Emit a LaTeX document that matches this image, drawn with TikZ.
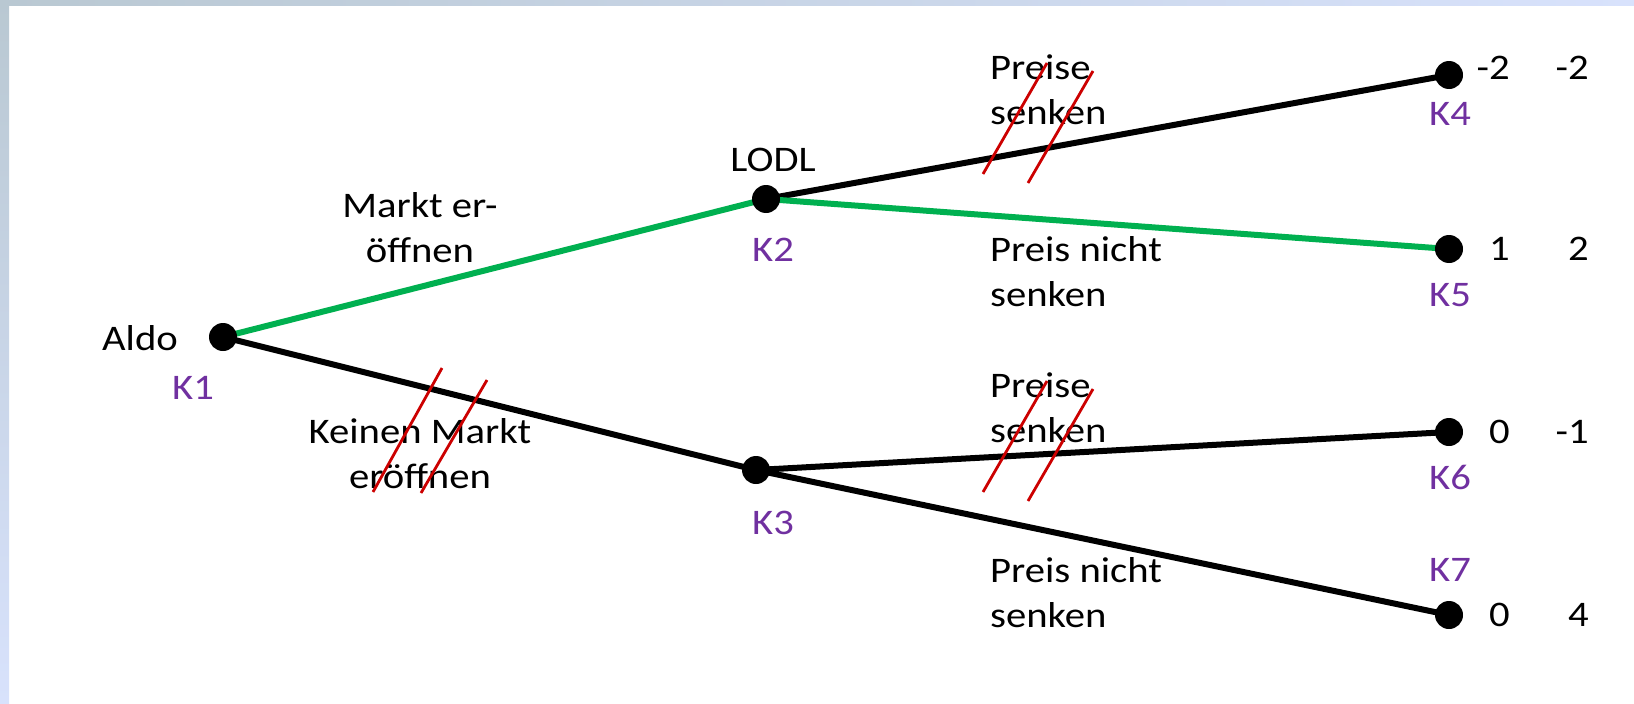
\documentclass[tikz,border=0pt]{standalone}
\usepackage{fontspec}
\setmainfont{Carlito}[FakeStretch=1.13]
\usetikzlibrary{backgrounds}
\definecolor{kgreen}{RGB}{0,176,80}
\definecolor{kpurple}{RGB}{112,48,160}
\definecolor{kred}{RGB}{204,0,0}
\definecolor{bgA}{RGB}{185,200,210}
\definecolor{bgB}{RGB}{216,226,252}
\tikzset{
  dot/.style={circle,fill=black,inner sep=0pt,minimum size=28pt},
  txt/.style={inner sep=0pt,font=\fontsize{36}{45}\selectfont},
  klabel/.style={txt,text=kpurple},
  edgeblack/.style={line width=6pt,black},
  edgegreen/.style={line width=6pt,kgreen},
  strike/.style={line width=2.8pt,kred},
}
\begin{document}
\begin{tikzpicture}[x=1pt,y=-1pt]
\useasboundingbox (0,0) rectangle (1634,704);
% frame strips
\shade[left color=bgA,right color=bgB] (0,0) rectangle (1634,5);
\shade[top color=bgA,bottom color=bgB] (0,0) rectangle (9,704);
% decision nodes
\node[dot] (k1) at (223,337) {};
\node[dot] (k2) at (766,199) {};
\node[dot] (k3) at (756,470) {};
\node[dot] (k4) at (1449,75) {};
\node[dot] (k5) at (1449,249) {};
\node[dot] (k6) at (1449,432) {};
\node[dot] (k7) at (1449,615) {};
% edges
\begin{pgfonlayer}{background}
\draw[edgegreen] (k1.center) -- (k2.center);
\draw[edgeblack] (k1.center) -- (k3.center);
\draw[edgeblack] (k2.center) -- (k4.center);
\draw[edgegreen] (k2.center) -- (k5.center);
\draw[edgeblack] (k3.center) -- (k6.center);
\draw[edgeblack] (k3.center) -- (k7.center);
\end{pgfonlayer}
% player labels
\node[txt] (aldo) at (140,338) {Aldo};
\node[txt] (lodl) at (773,160) {LODL};
% K labels
\node[klabel] (l1) at (193,388) {K1};
\node[klabel] (l2) at (773,250) {K2};
\node[klabel] (l3) at (773,523) {K3};
\node[klabel] (l4) at (1450,114) {K4};
\node[klabel] (l5) at (1450,295) {K5};
\node[klabel] (l6) at (1450,477) {K6};
\node[klabel] (l7) at (1450,570) {K7};
% action labels
\node[txt,align=center] (a1) at (420,228) {Markt er-\\öffnen};
\node[txt,align=center] (a2) at (420,454) {Keinen Markt\\eröffnen};
\node[txt,align=left,anchor=west] (a3) at (990,90) {Preise\\senken};
\node[txt,align=left,anchor=west] (a4) at (990,272) {Preis nicht\\senken};
\node[txt,align=left,anchor=west] (a5) at (990,408) {Preise\\senken};
\node[txt,align=left,anchor=west] (a6) at (990,593) {Preis nicht\\senken};
% payoffs
\node[txt,anchor=east] (p4a) at (1510,68) {-2};
\node[txt,anchor=east] (p4b) at (1589,68) {-2};
\node[txt,anchor=east] (p5a) at (1510,249) {1};
\node[txt,anchor=east] (p5b) at (1589,249) {2};
\node[txt,anchor=east] (p6a) at (1510,432) {0};
\node[txt,anchor=east] (p6b) at (1589,432) {-1};
\node[txt,anchor=east] (p7a) at (1510,615) {0};
\node[txt,anchor=east] (p7b) at (1589,615) {4};
% strike marks
\draw[strike] (983,174) -- (1047,63);
\draw[strike] (1028,183) -- (1093,71);
\draw[strike] (983,492) -- (1047,381);
\draw[strike] (1028,501) -- (1093,389);
\draw[strike] (373,492) -- (442,368);
\draw[strike] (421,493) -- (487,380);
\end{tikzpicture}
\end{document}
